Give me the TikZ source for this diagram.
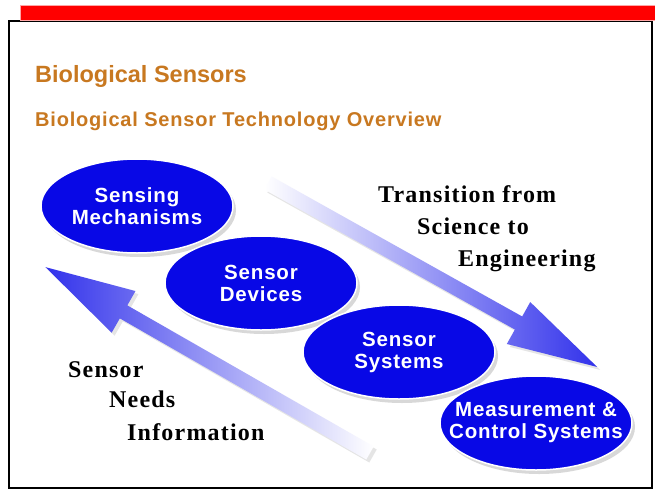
\documentclass[tikz,border=0pt]{standalone}
\usepackage{fontspec}
\setmainfont{Liberation Serif}
\newfontfamily\headfont[LetterSpace=0]{Liberation Sans}
\newfontfamily\subheadfont[LetterSpace=4]{Liberation Sans}
\newfontfamily\bubblefont[LetterSpace=4]{Liberation Sans}
\newfontfamily\notefont[LetterSpace=5]{Liberation Serif}
\usetikzlibrary{positioning,shapes.geometric,shadows}

\definecolor{slideblue}{RGB}{8,8,230}
\definecolor{arrowblue}{RGB}{50,50,235}
\definecolor{titleorange}{RGB}{200,120,32}

% big shaded arrow: length along the local x axis, left and right colour
\newcommand{\flowarrow}[3]{%
  \shade[left color=#2, right color=#3,
    drop shadow={shadow xshift=3pt, shadow yshift=-3pt, opacity=0.2}]
    (0,-7.5) -- (#1-90,-7.5) -- (#1-90,-24) -- (#1,0) -- (#1-90,24) -- (#1-90,7.5) -- (0,7.5) -- cycle;}

\tikzset{
  bubble/.style={ellipse, fill=slideblue, draw=white, line width=1.5pt,
    minimum width=192pt, minimum height=94pt, inner xsep=-20pt, inner ysep=0pt,
    text=white, align=center, font=\bubblefont\bfseries\fontsize{20.5}{22}\selectfont,
    drop shadow={shadow xshift=3pt, shadow yshift=-4pt, opacity=0.3}},
  heading/.style={anchor=base west, inner sep=0pt, text=titleorange},
  note/.style={anchor=base west, inner sep=0pt, font=\notefont\bfseries\fontsize{24}{26}\selectfont}
}

\begin{document}
\begin{tikzpicture}[x=1pt, y=-1pt]
    \useasboundingbox (0,0) rectangle (655,490);
    % slide frame and red bar
    \fill[white] (0,0) rectangle (655,490);
    \draw[line width=2.2pt] (9,21) rectangle (652,488);
    \fill[red, draw=red!35, line width=1pt] (20,5) rectangle (656,20);

    \node[heading, font=\headfont\bfseries\fontsize{23.5}{26}\selectfont] (title) at (35,82) {Biological Sensors};
    \node[heading, font=\subheadfont\bfseries\fontsize{20}{22}\selectfont] (subtitle) at (35,126) {Biological Sensor Technology Overview};

    % arrows
    \coordinate (sciTail) at (268,183);
    \coordinate (needTail) at (370,453);
    \begin{scope}[shift={(sciTail)}, rotate=-29.2]
        \flowarrow{377}{white}{arrowblue}
    \end{scope}
    \begin{scope}[shift={(needTail)}, rotate=150.2]
        \flowarrow{374}{arrowblue}{white}
    \end{scope}

    % stages
    \node[bubble] (mech) at (137,206) {Sensing\\Mechanisms};
    \node[bubble] (devices) at (261,283) {Sensor\\Devices};
    \node[bubble] (systems) at (399,352) {Sensor\\Systems};
    \node[bubble] (control) at (536,423) {Measurement \&\\Control Systems};

    \node[note] (trans1) at (378,202) {Transition from};
    \node[note] (trans2) at (417,234) {Science to};
    \node[note] (trans3) at (458,266) {Engineering};

    \node[note] (need1) at (68,377) {Sensor};
    \node[note] (need2) at (109,407) {Needs};
    \node[note] (need3) at (127,440) {Information};
\end{tikzpicture}
\end{document}
